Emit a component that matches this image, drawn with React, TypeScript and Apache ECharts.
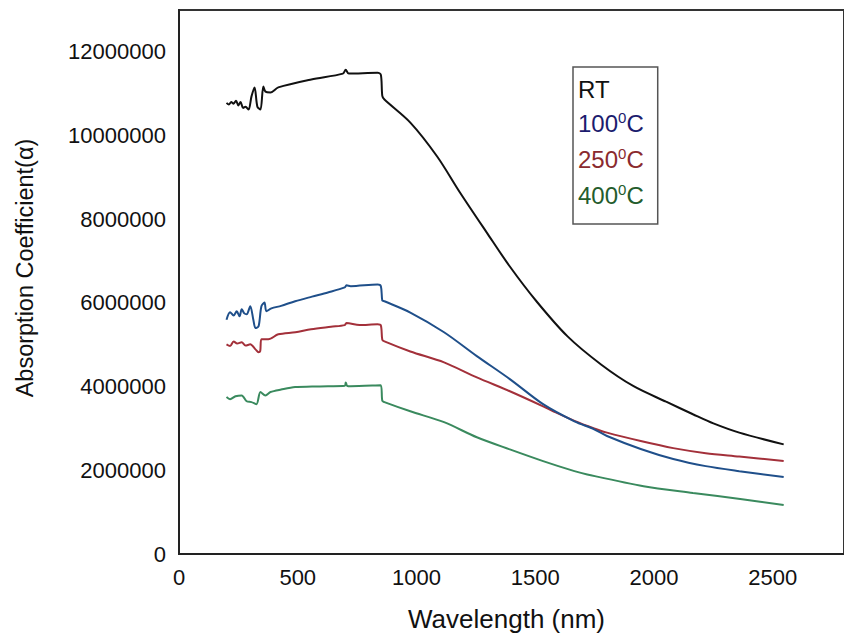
import React, { useEffect, useRef } from "react";
import * as echarts from "echarts";

const seriesNames = ["RT", "100°C", "250°C", "400°C"];
const xTicks = [0, 500, 1000, 1500, 2000, 2500];
const yTicks = [0, 2000000, 4000000, 6000000, 8000000, 10000000, 12000000];

const rtWl = [200, 210, 220, 230, 240, 250, 259, 270, 280, 293, 305, 318, 330, 343, 355, 364, 385, 418, 557, 690, 702, 715, 836, 850, 856, 865, 974, 1087, 1183, 1296, 1393, 1505, 1636, 1777, 1914, 2051, 2164, 2250, 2359, 2546];
const rtVal = [10.78, 10.74, 10.8, 10.76, 10.83, 10.72, 10.8, 10.66, 10.69, 10.62, 10.93, 11.15, 10.69, 10.62, 11.17, 11.05, 11.03, 11.15, 11.34, 11.48, 11.57, 11.48, 11.5, 11.45, 10.95, 10.86, 10.31, 9.5, 8.64, 7.68, 6.87, 6.04, 5.2, 4.53, 4.01, 3.64, 3.34, 3.12, 2.9, 2.62];

const t100Wl = [200, 215, 230, 243, 255, 264, 275, 285, 300, 313, 322, 335, 347, 360, 368, 389, 430, 489, 560, 627, 698, 705, 723, 836, 850, 856, 865, 974, 1116, 1254, 1393, 1533, 1665, 1748, 1802, 1944, 2081, 2218, 2359, 2546];
const t100Val = [5.6, 5.78, 5.7, 5.8, 5.68, 5.85, 5.75, 5.73, 5.92, 5.6, 5.4, 5.44, 5.92, 6.01, 5.8, 5.87, 5.93, 6.04, 6.15, 6.25, 6.37, 6.42, 6.4, 6.44, 6.4, 6.06, 6.04, 5.77, 5.3, 4.73, 4.18, 3.58, 3.17, 2.98, 2.82, 2.51, 2.27, 2.1, 1.98, 1.84];

const t250Wl = [200, 215, 230, 245, 264, 280, 300, 322, 335, 342, 347, 376, 418, 490, 556, 640, 698, 705, 760, 836, 850, 856, 865, 974, 1116, 1254, 1393, 1533, 1576, 1665, 1748, 1802, 1944, 2081, 2218, 2359, 2546];
const t250Val = [5.01, 4.97, 5.08, 5.03, 5.06, 4.98, 5.01, 4.89, 4.82, 4.85, 5.13, 5.13, 5.25, 5.3, 5.37, 5.43, 5.47, 5.52, 5.47, 5.49, 5.46, 5.12, 5.08, 4.84, 4.58, 4.22, 3.89, 3.53, 3.41, 3.18, 3.0, 2.9, 2.7, 2.53, 2.41, 2.33, 2.22];

const t400Wl = [200, 215, 238, 264, 285, 305, 326, 343, 364, 385, 430, 489, 560, 627, 698, 702, 708, 723, 849, 856, 865, 974, 1116, 1254, 1393, 1533, 1665, 1719, 1956, 2164, 2371, 2546];
const t400Val = [3.75, 3.7, 3.77, 3.79, 3.65, 3.63, 3.58, 3.87, 3.79, 3.87, 3.93, 3.99, 4.0, 4.01, 4.02, 4.1, 4.02, 4.01, 4.03, 3.66, 3.63, 3.41, 3.15, 2.79, 2.5, 2.22, 1.98, 1.9, 1.62, 1.46, 1.31, 1.17];

const lineColors = ["#111111", "#1f4f8a", "#a3303a", "#3a8a5e"];
const legendColors = ["#111111", "#1c1c6e", "#8a2a2e", "#245c2c"];

const FONT = "'Liberation Sans', Arial, sans-serif";

function pairs(wl: number[], val: number[]) {
  return wl.map((w, i) => [w, val[i] * 1000000]);
}

export default function App() {
  const ref = useRef<HTMLDivElement>(null);
  useEffect(() => {
    if (!ref.current) return;
    const chart = echarts.init(ref.current, undefined, { renderer: "svg" });
    const datasets = [
      pairs(rtWl, rtVal),
      pairs(t100Wl, t100Val),
      pairs(t250Wl, t250Val),
      pairs(t400Wl, t400Val),
    ];
    chart.setOption({
      animation: false,
      backgroundColor: "#ffffff",
      textStyle: { fontFamily: FONT },
      grid: {
        left: 179,
        top: 10,
        width: 674,
        height: 545,
        show: true,
        borderColor: "#333",
        borderWidth: 2,
      },
      legend: {
        left: 573,
        top: 67,
        orient: "vertical",
        icon: "none",
        itemWidth: 0,
        itemHeight: 20,
        itemGap: 9,
        padding: [10, 14, 15, 0],
        borderColor: "#555",
        borderWidth: 1.5,
        selectedMode: false,
        data: seriesNames.map((n, i) => ({
          name: n,
          textStyle: { color: legendColors[i] },
        })),
        formatter: (name: string) => {
          if (name === "RT") return "{n|RT}";
          const num = name.replace("°C", "");
          return `{n|${num}}{s|0}{n|C}`;
        },
        textStyle: {
          fontFamily: FONT,
          fontSize: 24,
          rich: {
            n: { fontSize: 24, lineHeight: 26, fontFamily: FONT },
            s: { fontSize: 15, lineHeight: 26, fontFamily: FONT, padding: [0, 0, 12, 0] },
          },
        },
      },
      xAxis: {
        type: "value",
        min: 0,
        max: 2800,
        interval: 500,
        name: "Wavelength (nm)",
        nameLocation: "middle",
        nameGap: 52,
        nameTextStyle: { fontSize: 26, color: "#111", fontFamily: FONT, padding: [0, 10, 0, 0] },
        axisLine: { show: true, lineStyle: { color: "#222", width: 2 } },
        axisTick: { show: false },
        splitLine: { show: false },
        axisLabel: {
          fontSize: 22,
          color: "#111",
          margin: 12,
          fontFamily: FONT,
          showMaxLabel: false,
          formatter: (v: number) => (xTicks.includes(v) ? String(v) : ""),
        },
      },
      yAxis: {
        type: "value",
        min: 0,
        max: 13000000,
        interval: 2000000,
        name: "Absorption Coefficient(α)",
        nameLocation: "middle",
        nameRotate: 90,
        nameGap: 142,
        nameTextStyle: { fontSize: 23.5, color: "#111", fontFamily: FONT, padding: [0, 0, 0, 28] },
        axisLine: { show: true, lineStyle: { color: "#222", width: 2 } },
        axisTick: { show: false },
        splitLine: { show: false },
        axisLabel: {
          fontSize: 22,
          color: "#111",
          margin: 13,
          fontFamily: FONT,
          showMaxLabel: false,
          formatter: (v: number) => (yTicks.includes(v) ? String(v) : ""),
        },
      },
      series: seriesNames.map((n, i) => ({
        name: n,
        type: "line",
        data: datasets[i],
        showSymbol: false,
        symbol: "none",
        smooth: 0.3,
        lineStyle: { color: lineColors[i], width: 2 },
        itemStyle: { color: lineColors[i] },
        z: 4 - i,
      })),
    });
    return () => chart.dispose();
  }, []);
  return (
    <div
      ref={ref}
      style={{ position: "fixed", left: 0, top: 0, width: 844, height: 637, background: "#fff" }}
    />
  );
}
